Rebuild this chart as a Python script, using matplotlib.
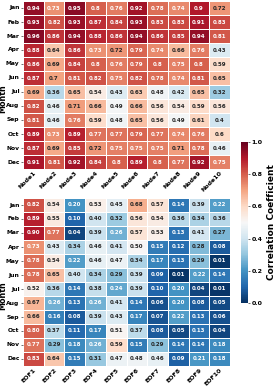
import numpy as np
import matplotlib
matplotlib.use("Agg")
import matplotlib.pyplot as plt
import seaborn as sns

months = ['Jan', 'Feb', 'Mar', 'Apr', 'May', 'Jun', 'Jul', 'Aug', 'Sep', 'Oct', 'Nov', 'Dec']
nodes = ['Node%d' % i for i in range(1, 11)]
eofs = ['EOF%d' % i for i in range(1, 11)]

node_corr = [
    [0.94, 0.73, 0.95, 0.8, 0.76, 0.92, 0.78, 0.74, 0.9, 0.72],
    [0.93, 0.82, 0.93, 0.87, 0.84, 0.93, 0.83, 0.83, 0.91, 0.83],
    [0.96, 0.86, 0.94, 0.88, 0.86, 0.94, 0.86, 0.85, 0.94, 0.81],
    [0.88, 0.64, 0.86, 0.73, 0.72, 0.79, 0.74, 0.66, 0.76, 0.43],
    [0.86, 0.69, 0.84, 0.8, 0.76, 0.79, 0.8, 0.75, 0.8, 0.59],
    [0.87, 0.7, 0.81, 0.82, 0.75, 0.82, 0.78, 0.74, 0.81, 0.65],
    [0.69, 0.36, 0.65, 0.54, 0.43, 0.63, 0.48, 0.42, 0.65, 0.32],
    [0.82, 0.46, 0.71, 0.66, 0.49, 0.66, 0.56, 0.54, 0.59, 0.56],
    [0.81, 0.46, 0.76, 0.59, 0.48, 0.65, 0.56, 0.49, 0.61, 0.4],
    [0.89, 0.73, 0.89, 0.77, 0.77, 0.79, 0.77, 0.74, 0.76, 0.6],
    [0.87, 0.69, 0.85, 0.72, 0.75, 0.75, 0.75, 0.71, 0.78, 0.46],
    [0.91, 0.81, 0.92, 0.84, 0.8, 0.89, 0.8, 0.77, 0.92, 0.75],
]

eof_corr = [
    [0.82, 0.54, 0.20, 0.53, 0.45, 0.68, 0.57, 0.14, 0.39, 0.22],
    [0.89, 0.55, 0.10, 0.40, 0.32, 0.56, 0.54, 0.36, 0.34, 0.36],
    [0.90, 0.77, 0.04, 0.39, 0.26, 0.57, 0.53, 0.13, 0.41, 0.27],
    [0.73, 0.43, 0.34, 0.46, 0.41, 0.50, 0.15, 0.12, 0.28, 0.08],
    [0.78, 0.54, 0.22, 0.46, 0.47, 0.34, 0.17, 0.13, 0.29, 0.01],
    [0.78, 0.65, 0.40, 0.34, 0.29, 0.39, 0.09, 0.01, 0.22, 0.14],
    [0.52, 0.36, 0.14, 0.38, 0.24, 0.39, 0.10, 0.20, 0.04, 0.01],
    [0.67, 0.26, 0.13, 0.26, 0.41, 0.14, 0.06, 0.20, 0.08, 0.05],
    [0.66, 0.16, 0.08, 0.39, 0.43, 0.17, 0.07, 0.22, 0.13, 0.06],
    [0.80, 0.37, 0.11, 0.17, 0.51, 0.37, 0.08, 0.05, 0.13, 0.04],
    [0.77, 0.29, 0.18, 0.26, 0.59, 0.15, 0.29, 0.14, 0.14, 0.18],
    [0.83, 0.64, 0.15, 0.31, 0.47, 0.48, 0.46, 0.09, 0.21, 0.18],
]

W, H = 275, 391
fig = plt.figure(figsize=(W / 100, H / 100), dpi=100)

def px_axes(x0, y0, x1, y1):
    return fig.add_axes([x0 / W, 1 - y1 / H, (x1 - x0) / W, (y1 - y0) / H])

ax1 = px_axes(23, 1, 230, 169)
ax2 = px_axes(23, 198, 230, 366)
cax = px_axes(241, 142, 248, 303)

annot_kw = {'fontsize': 4, 'fontweight': 'bold'}
sns.heatmap(np.array(node_corr), ax=ax1, cmap='RdBu_r', vmin=0, vmax=1,
            annot=True, fmt='g', annot_kws=annot_kw, linewidths=0.4,
            linecolor='white', cbar=False, xticklabels=nodes, yticklabels=months)
sns.heatmap(np.array(eof_corr), ax=ax2, cmap='RdBu_r', vmin=0, vmax=1,
            annot=True, fmt='.2f', annot_kws=annot_kw, linewidths=0.4,
            linecolor='white', cbar=True, cbar_ax=cax,
            xticklabels=eofs, yticklabels=months)

for ax in (ax1, ax2):
    ax.set_ylabel('Month', fontsize=5.8, fontweight='bold')
    ax.yaxis.set_label_coords(-0.074, 0.42)
    ax.tick_params(axis='x', labelsize=4.5, length=0, pad=1)
    ax.tick_params(axis='y', labelsize=4.3, length=1.5, width=0.4, pad=1)
    for lab in ax.get_xticklabels():
        lab.set_rotation(45)
        lab.set_ha('right')
        lab.set_rotation_mode('anchor')
        lab.set_fontweight('bold')
    for lab in ax.get_yticklabels():
        lab.set_rotation(0)
        lab.set_fontweight('bold')

cb = ax2.collections[0].colorbar
cb.set_ticks([0.0, 0.2, 0.4, 0.6, 0.8, 1.0])
cb.ax.tick_params(labelsize=4.5, length=1.5, width=0.4, pad=1)
for lab in cb.ax.get_yticklabels():
    lab.set_fontweight('bold')
cb.outline.set_visible(False)
cb.set_label('Correlation Coefficient', fontsize=6.5, fontweight='bold', labelpad=3)

fig.savefig('out.png', dpi=100)
